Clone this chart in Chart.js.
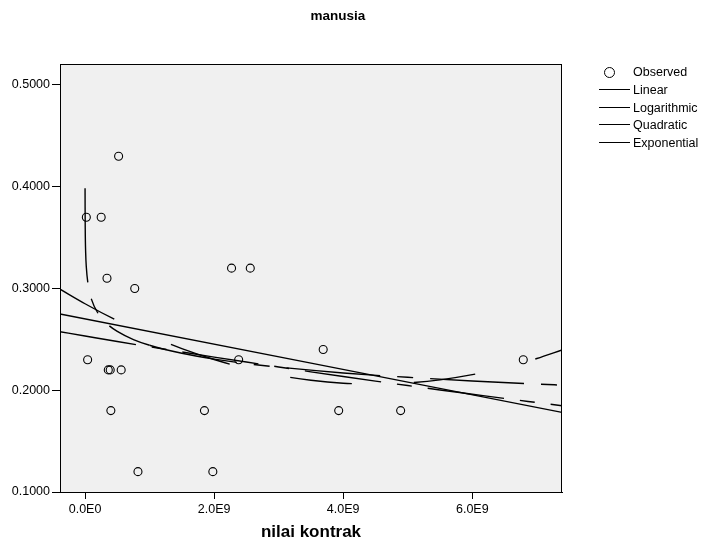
<!DOCTYPE html>
<html>
<head>
<meta charset="utf-8">
<title>manusia</title>
<script src="https://cdn.jsdelivr.net/npm/chart.js"></script>
<style>
  body { margin: 0; background: #fff; }
  #wrap { position: relative; width: 702px; height: 546px; font-family: "Liberation Sans", Arial, sans-serif; color: #000; }
  #chart { position: absolute; left: 0; top: 0; }
  #title { position: absolute; left: 238px; width: 200px; top: 8px; text-align: center; font-weight: bold; font-size: 13.5px; line-height: 16px; }
  .row { position: absolute; left: 596px; height: 18px; font-size: 12.5px; line-height: 18px; }
  .row .key { position: absolute; left: 3px; top: 8px; width: 31px; border-top: 1.3px solid #000; }
  .row .dot { position: absolute; left: 8px; top: 4px; width: 9px; height: 9px; border: 1.2px solid #000; border-radius: 50%; }
  .row .txt { position: absolute; left: 37px; top: 0; white-space: nowrap; }
</style>
</head>
<body>
<div id="wrap">
  <canvas id="chart" width="702" height="546"></canvas>
  <div id="title">manusia</div>
  <div id="legend"></div>
</div>
<script>
// ================= DATA =================
// observed points (x = nilai kontrak, y = manusia)
const xObs = [0.52e9, 0.02e9, 0.25e9, 0.34e9, 0.77e9, 2.27e9, 2.56e9, 0.04e9, 0.36e9, 0.39e9,
              0.56e9, 0.40e9, 1.85e9, 2.38e9, 3.69e9, 3.93e9, 4.89e9, 6.79e9, 0.82e9, 1.98e9];
const yObs = [0.43, 0.37, 0.37, 0.31, 0.30, 0.32, 0.32, 0.23, 0.22, 0.22,
              0.22, 0.18, 0.18, 0.23, 0.24, 0.18, 0.18, 0.23, 0.12, 0.12];

// fitted curves, values
const linX = [-0.388e9, 7.39e9];
const linY = [0.2750, 0.1782];

const logX = [0.00035e9, 0.001e9, 0.003e9, 0.01e9, 0.02e9, 0.05e9, 0.1e9, 0.2e9, 0.35e9, 0.5e9, 0.75e9,
              1e9, 1.5e9, 2e9, 2.5e9, 3e9, 4e9, 5e9, 6e9, 7e9, 7.39e9];
const logY = [0.3985, 0.3796, 0.3581, 0.3345, 0.3209, 0.3029, 0.2893, 0.2757, 0.2648, 0.2578, 0.2498,
              0.2442, 0.2363, 0.2306, 0.2262, 0.2227, 0.2170, 0.2127, 0.2091, 0.2061, 0.2050];

const curveX = [-0.388e9, 0, 0.5e9, 1e9, 1.5e9, 2e9, 2.5e9, 3e9, 3.5e9, 4e9, 4.5e9,
                5e9, 5.5e9, 6e9, 6.5e9, 7e9, 7.39e9];
const quadY = [0.2993, 0.2850, 0.2683, 0.2537, 0.2409, 0.2302, 0.2214, 0.2146, 0.2098, 0.2069, 0.2061,
               0.2072, 0.2102, 0.2153, 0.2223, 0.2312, 0.2396];
const expY  = [0.2575, 0.2533, 0.2479, 0.2427, 0.2376, 0.2326, 0.2277, 0.2229, 0.2181, 0.2135, 0.2090,
               0.2046, 0.2003, 0.1961, 0.1919, 0.1879, 0.1848];

const xTicks = [0, 2e9, 4e9, 6e9];
const xTickLabels = ["0.0E0", "2.0E9", "4.0E9", "6.0E9"];
const yTicks = [0.1, 0.2, 0.3, 0.4, 0.5];
const yTickLabels = ["0.1000", "0.2000", "0.3000", "0.4000", "0.5000"];

const legendLabels = ["Observed", "Linear", "Logarithmic", "Quadratic", "Exponential"];

// ================= HELPERS =================
const pts = (xs, ys) => xs.map((x, i) => ({ x: x, y: ys[i] }));
const FONT = "'Liberation Sans', Arial, sans-serif";

function fitLine(label, xs, ys, dash, extra) {
  return Object.assign({
    label: label,
    data: pts(xs, ys),
    showLine: true,
    borderColor: "#000",
    borderWidth: 1.4,
    borderDash: dash,
    pointRadius: 0,
    fill: false,
    cubicInterpolationMode: "monotone"
  }, extra || {});
}

// ================= PLOT FRAME =================
const plotFrame = {
  id: "plotFrame",
  beforeDraw(chart) {
    const a = chart.chartArea;
    const ctx = chart.ctx;
    ctx.save();
    ctx.fillStyle = "#f0f0f0";
    ctx.fillRect(a.left, a.top, a.right - a.left, a.bottom - a.top);
    ctx.restore();
  },
  afterDraw(chart) {
    const a = chart.chartArea;
    const ctx = chart.ctx;
    ctx.save();
    ctx.strokeStyle = "#000";
    ctx.lineWidth = 1;
    ctx.strokeRect(Math.round(a.left) + 0.5, Math.round(a.top) + 0.5,
                   Math.round(a.right - a.left) - 1, Math.round(a.bottom - a.top));
    ctx.restore();
  }
};

// ================= CHART =================
new Chart(document.getElementById("chart"), {
  type: "scatter",
  data: {
    datasets: [
      {
        label: "Observed",
        data: pts(xObs, yObs),
        pointStyle: "circle",
        pointRadius: 4,
        pointBorderWidth: 1.1,
        pointBorderColor: "#000",
        pointBackgroundColor: "rgba(0,0,0,0)"
      },
      fitLine("Linear", linX, linY, []),
      // the dash pattern restarts past 1.0E9, as in the original
      fitLine("Logarithmic", logX, logY, [94, 17, 16, 17], {
        segment: { borderDashOffset: c => (logX[c.p0DataIndex] >= 1e9 ? 5 : 0) }
      }),
      fitLine("Quadratic", curveX, quadY, [62, 62]),
      fitLine("Exponential", curveX, expY, [77, 16, 15, 16])
    ]
  },
  options: {
    responsive: false,
    animation: false,
    devicePixelRatio: 1,
    layout: { padding: { top: 64, right: 140, left: 0, bottom: 0 } },
    plugins: {
      legend: { display: false },
      tooltip: { enabled: false }
    },
    scales: {
      x: {
        type: "linear",
        min: -0.388e9,
        max: 7.39e9,
        afterBuildTicks: s => { s.ticks = xTicks.map(v => ({ value: v })); },
        afterFit: s => { s.height = 54; },
        ticks: {
          callback: (v, i) => xTickLabels[i],
          font: { family: FONT, size: 12.5 },
          color: "#000",
          padding: 3,
          maxRotation: 0,
          autoSkip: false
        },
        grid: { drawOnChartArea: false, drawTicks: true, tickLength: 7, color: "#000", lineWidth: 1 },
        border: { color: "#000", width: 1 },
        title: {
          display: true,
          text: "nilai kontrak",
          color: "#000",
          font: { family: FONT, size: 17, weight: "bold" },
          padding: { top: 0, bottom: 3 }
        }
      },
      y: {
        type: "linear",
        min: 0.1,
        max: 0.5206,
        afterBuildTicks: s => { s.ticks = yTicks.map(v => ({ value: v })); },
        afterFit: s => { s.width = 60; },
        ticks: {
          callback: (v, i) => yTickLabels[i],
          font: { family: FONT, size: 12.5 },
          color: "#000",
          padding: 2
        },
        grid: { drawOnChartArea: false, drawTicks: true, tickLength: 8, color: "#000", lineWidth: 1 },
        border: { color: "#000", width: 1 }
      }
    }
  },
  plugins: [plotFrame]
});

// ================= LEGEND =================
const legend = document.getElementById("legend");
legendLabels.forEach((name, i) => {
  const row = document.createElement("div");
  row.className = "row";
  row.style.top = (63 + i * 17.75) + "px";
  const mark = document.createElement("div");
  mark.className = i === 0 ? "dot" : "key";
  const txt = document.createElement("div");
  txt.className = "txt";
  txt.textContent = name;
  row.appendChild(mark);
  row.appendChild(txt);
  legend.appendChild(row);
});
</script>
</body>
</html>
